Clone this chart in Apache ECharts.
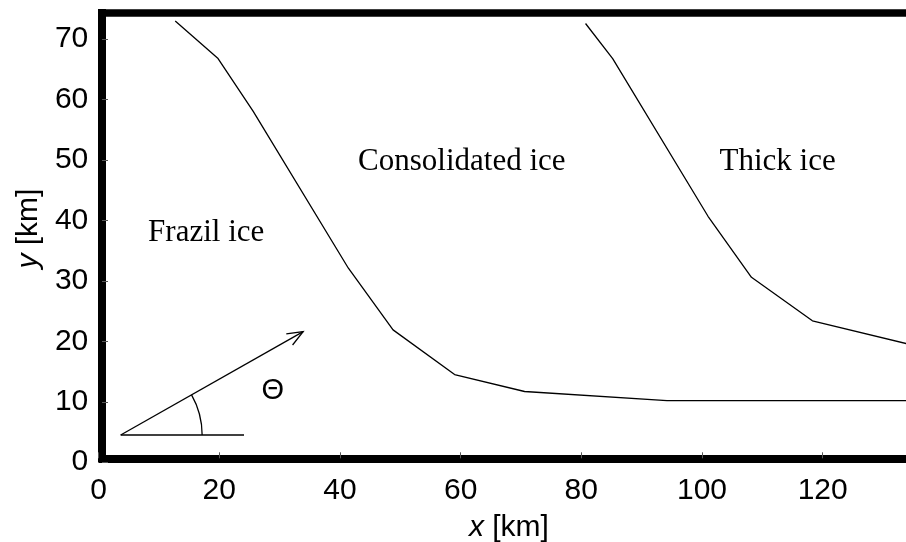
<!DOCTYPE html>
<html>
<head>
<meta charset="utf-8">
<title>Ice regimes</title>
<script src="https://cdn.jsdelivr.net/npm/echarts@6/dist/echarts.min.js"></script>
<style>
  html, body { margin: 0; padding: 0; background: #fff; }
  #chart { width: 906px; height: 542px; }
</style>
</head>
<body>
<div id="chart"></div>
<script>
// Boundary between frazil ice and consolidated ice (km)
const frazilEdgeX = [12.7, 19.8, 25.6, 41.4, 48.8, 59.0, 70.6, 94.2, 136];
const frazilEdgeY = [73.0, 66.8, 58.1, 32.1, 21.9, 14.5, 11.7, 10.2, 10.2];

// Boundary between consolidated ice and thick ice (km)
const thickEdgeX = [80.7, 85.2, 101.0, 108.2, 118.3, 134.0];
const thickEdgeY = [72.6, 66.8, 40.7, 30.6, 23.4, 19.6];

// Region names and where they sit (left edge, vertical middle)
const regionNames = ['Frazil ice', 'Consolidated ice', 'Thick ice'];
const regionX = [8.2, 43.0, 102.9];
const regionY = [38.0, 49.7, 49.7];

// Wind direction sketch: origin, end of the reference line, arrow tip, arc radius
const sketchOrigin = [3.66, 4.5];
const sketchBaseEnd = [24.1, 4.5];
const sketchArrowTip = [33.9, 21.6];
const sketchArcRadius = 13.5;
const angleLabel = 'Θ';
const angleLabelPos = [28.85, 11.85];

// Axis ticks
const xTicks = [0, 20, 40, 60, 80, 100, 120];
const yTicks = [0, 10, 20, 30, 40, 50, 60, 70];

const chart = echarts.init(document.getElementById('chart'), null, { renderer: 'canvas' });

const pairs = (xs, ys) => xs.map((x, i) => [x, ys[i]]);
const tickFormatter = (list) => (v) => (list.indexOf(v) >= 0 ? String(v) : '');

const sansLabel = { fontFamily: 'Liberation Sans', fontSize: 30, color: '#000' };
const frameLine = (w) => ({ show: true, onZero: false, lineStyle: { color: '#000', width: w, cap: 'butt' } });
const innerTick = { show: true, inside: true, length: 6, lineStyle: { color: '#555', width: 1 } };
const axisTitle = (pad) => ({
  fontFamily: 'Liberation Sans', fontSize: 30, color: '#000', padding: pad,
  rich: { i: { fontFamily: 'Liberation Sans', fontSize: 30, fontStyle: 'italic', color: '#000' } }
});

const option = {
  animation: false,
  backgroundColor: '#fff',
  grid: {
    left: 98.6, top: 9, bottom: 79.8, right: -13.2,
    containLabel: false,
    outerBoundsMode: 'none'
  },
  xAxis: [
    {
      type: 'value', min: 0, max: 136, interval: 20,
      position: 'bottom', offset: -3.9,
      axisLine: frameLine(8),
      axisTick: innerTick,
      axisLabel: Object.assign({ margin: 17.7, showMaxLabel: false, formatter: tickFormatter(xTicks) }, sansLabel),
      splitLine: { show: false },
      name: '{i|x} [km]', nameLocation: 'middle', nameGap: 54,
      nameTextStyle: axisTitle(0)
    },
    {
      type: 'value', min: 0, max: 136, position: 'top', offset: -3.9,
      axisLine: frameLine(7.7),
      axisTick: { show: false }, axisLabel: { show: false }, splitLine: { show: false }
    }
  ],
  yAxis: {
    type: 'value', min: 0, max: 75, interval: 10,
    position: 'left', offset: -3.4,
    axisLine: frameLine(8),
    axisTick: innerTick,
    axisLabel: Object.assign({ margin: 13.7, showMaxLabel: false, formatter: tickFormatter(yTicks) }, sansLabel),
    splitLine: { show: false },
    name: '{i|y} [km]', nameLocation: 'middle', nameGap: 56,
    nameTextStyle: axisTitle([0, 0, 0, 14])
  },
  series: [
    {
      type: 'line', name: 'frazil edge', data: pairs(frazilEdgeX, frazilEdgeY),
      showSymbol: false, symbol: 'none', clip: true,
      lineStyle: { color: '#000', width: 1.3 }
    },
    {
      type: 'line', name: 'thick edge', data: pairs(thickEdgeX, thickEdgeY),
      showSymbol: false, symbol: 'none', clip: true,
      lineStyle: { color: '#000', width: 1.3 }
    },
    {
      type: 'custom', name: 'regions',
      data: regionNames.map((n, i) => [regionX[i], regionY[i]]),
      renderItem: function (params, api) {
        const p = api.coord([api.value(0), api.value(1)]);
        return {
          type: 'text', x: p[0], y: p[1],
          style: {
            text: regionNames[params.dataIndex],
            fontFamily: 'Liberation Serif', fontSize: 31, fill: '#000',
            align: 'left', verticalAlign: 'middle'
          }
        };
      },
      silent: true
    },
    {
      type: 'custom', name: 'direction sketch',
      data: [[sketchOrigin[0], sketchOrigin[1]]],
      renderItem: function (params, api) {
        const o = api.coord(sketchOrigin);
        const b = api.coord(sketchBaseEnd);
        const t = api.coord(sketchArrowTip);
        const r = api.size([sketchArcRadius, 0])[0];
        const lbl = api.coord(angleLabelPos);
        const ang = Math.atan2(t[1] - o[1], t[0] - o[0]);
        const head = 17, spread = 22 * Math.PI / 180;
        const h1 = [t[0] - head * Math.cos(ang - spread), t[1] - head * Math.sin(ang - spread)];
        const h2 = [t[0] - head * Math.cos(ang + spread), t[1] - head * Math.sin(ang + spread)];
        const stroke = { stroke: '#000', lineWidth: 1.3, fill: null };
        return {
          type: 'group',
          children: [
            { type: 'line', shape: { x1: o[0], y1: o[1], x2: b[0], y2: b[1] }, style: stroke },
            { type: 'line', shape: { x1: o[0], y1: o[1], x2: t[0], y2: t[1] }, style: stroke },
            { type: 'polyline', shape: { points: [h1, t, h2] }, style: stroke },
            { type: 'arc', shape: { cx: o[0], cy: o[1], r: r, startAngle: ang, endAngle: 0, clockwise: true }, style: stroke },
            {
              type: 'text', x: lbl[0], y: lbl[1],
              style: {
                text: angleLabel, fontFamily: 'Liberation Sans', fontSize: 29, fill: '#000',
                align: 'center', verticalAlign: 'middle'
              }
            }
          ]
        };
      },
      silent: true
    }
  ]
};

chart.setOption(option);
</script>
</body>
</html>
